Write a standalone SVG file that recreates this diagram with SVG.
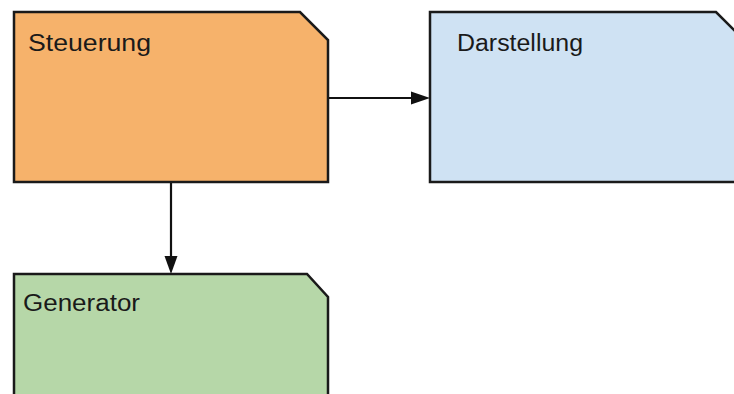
<svg xmlns="http://www.w3.org/2000/svg" width="734" height="394" viewBox="0 0 734 394">
<defs>
<style>
.box{stroke:#1a1a1a;stroke-width:2.5;stroke-linejoin:miter}
.lbl{font-family:"Liberation Sans",Arial,sans-serif;font-size:23px;fill:#1a1a1a}
.conn{stroke:#111;stroke-width:2.2;fill:none}
</style>
</defs>
<rect width="734" height="394" fill="#fff"/>
<g id="steuerung">
<path class="box" d="M14,12 H300 L328,40 V182 H14 Z" fill="#f6b26b"/>
<text class="lbl" x="28" y="51" textLength="123" lengthAdjust="spacingAndGlyphs">Steuerung</text>
</g>
<g id="darstellung">
<path class="box" d="M430,12 H716 L744,40 V182 H430 Z" fill="#cfe2f3"/>
<text class="lbl" x="457" y="51" textLength="126" lengthAdjust="spacingAndGlyphs">Darstellung</text>
</g>
<g id="generator">
<path class="box" d="M14,274 H307 L328,297 V410 H14 Z" fill="#b6d7a8"/>
<text class="lbl" x="23" y="311" textLength="117" lengthAdjust="spacingAndGlyphs">Generator</text>
</g>
<g id="connectors">
<line class="conn" x1="329" y1="98" x2="412" y2="98"/>
<path d="M411,91.5 L430,98 L411,104.5 Z" fill="#111"/>
<line class="conn" x1="171" y1="183" x2="171" y2="258"/>
<path d="M164.5,256 L171,274 L177.5,256 Z" fill="#111"/>
</g>
</svg>
